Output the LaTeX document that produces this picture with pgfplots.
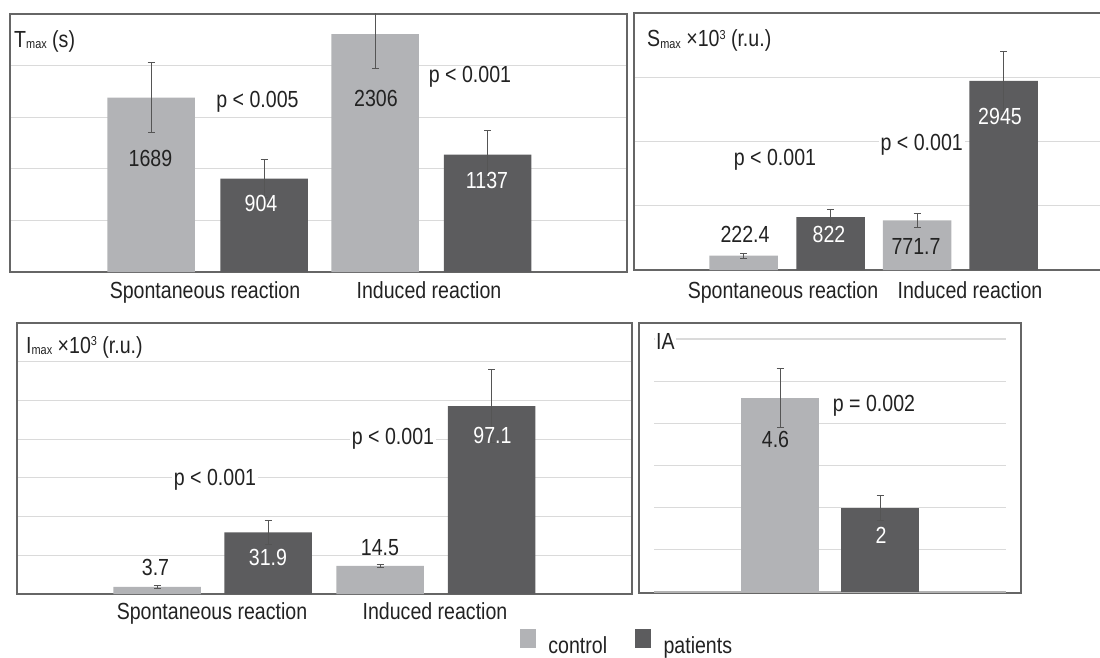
\documentclass[border=0pt]{standalone}
\usepackage{pgfplots}
\pgfplotsset{compat=1.18}
\usepackage{fontspec}
\setmainfont{Liberation Sans}[FakeStretch=0.84]
\definecolor{ctrl}{HTML}{B2B3B6}
\definecolor{pat}{HTML}{5C5C5E}
\definecolor{gridc}{HTML}{DADADA}
\definecolor{framec}{HTML}{666666}
\definecolor{errc}{HTML}{555555}
\definecolor{txt}{HTML}{222222}
\newcommand\subr[1]{\raisebox{-1.5pt}{\fontsize{13}{13}\selectfont #1}}
\newcommand\supr[1]{\raisebox{7.5pt}{\fontsize{13}{13}\selectfont #1}}
\pgfplotsset{
  panel/.style={
    scale only axis, anchor=south west, ymin=0,
    axis line style={draw=framec, line width=1.5pt},
    ymajorgrids, grid style={draw=gridc, line width=1.2pt},
    yticklabels={}, ytick style={draw=none}, xtick style={draw=none},
    xticklabel style={anchor=base, text=txt},
  },
  errs/.style={error bars/.cd, y dir=both, y explicit, error mark=-,
    error bar style={draw=errc, line width=0.9pt},
    error mark options={rotate=90, draw=errc, line width=0.9pt, mark size=3.5pt}},
}
\tikzset{
  lbl/.style={anchor=base, inner sep=0pt, text=txt},
  wlbl/.style={anchor=base, inner sep=0pt, text=white},
  plbl/.style={anchor=base, inner xsep=2pt, inner ysep=0.5pt, fill=white, text=txt},
  ttl/.style={anchor=base west, inner xsep=1pt, inner ysep=0.5pt, fill=white, text=txt},
}
\begin{document}
\fontsize{23.3}{28}\selectfont
\begin{tikzpicture}
\useasboundingbox (0pt,0pt) rectangle (1100pt,657pt);

% Panel 1: Tmax
\begin{axis}[panel, at={(10pt,385pt)}, width=617pt, height=258pt,
  xmin=10, xmax=627, ymax=2500, ytick={500,1000,1500,2000},
  xtick={205,429}, xticklabels={Spontaneous reaction, Induced reaction},
  xticklabel style={yshift=-26pt}]
\addplot[ybar, bar width=87.5, bar shift=0pt, fill=ctrl, draw=none, errs]
  table[x=x, y=y, y error=e] {
x y e
151 1689 340
375 2306 335
};
\addplot[ybar, bar width=87.5, bar shift=0pt, fill=pat, draw=none, errs]
  table[x=x, y=y, y error=e] {
x y e
264 904 183
487.5 1137 233
};
\node[lbl] at (axis cs:150.5,1022) {1689};
\node[wlbl] at (axis cs:261,586) {904};
\node[lbl] at (axis cs:376,1599) {2306};
\node[wlbl] at (axis cs:487,809) {1137};
\node[plbl] at (axis cs:257.5,1596) {p < 0.005};
\node[plbl] at (axis cs:470,1834) {p < 0.001};
\node[ttl] at (axis cs:13,2180) {T\subr{max} (s)};
\end{axis}

% Panel 2: Smax
\begin{axis}[panel, at={(634pt,387pt)}, width=476pt, height=257pt,
  xmin=634, xmax=1110, ymax=4000, ytick={1000,2000,3000},
  xtick={783,970}, xticklabels={Spontaneous reaction, Induced reaction},
  xticklabel style={yshift=-28pt}]
\addplot[ybar, bar width=68.5, bar shift=0pt, fill=ctrl, draw=none, errs]
  table[x=x, y=y, y error=e] {
x y e
743.5 222.4 35
917 771.7 115
};
\addplot[ybar, bar width=68.5, bar shift=0pt, fill=pat, draw=none, errs]
  table[x=x, y=y, y error=e] {
x y e
830.5 822 120
1003.5 2945 455
};
\node[lbl] at (axis cs:745,425) {222.4};
\node[wlbl] at (axis cs:829,425) {822};
\node[lbl] at (axis cs:916,249) {771.7};
\node[wlbl] at (axis cs:1000,2272) {2945};
\node[plbl] at (axis cs:775,1624) {p < 0.001};
\node[plbl] at (axis cs:921.7,1857) {p < 0.001};
\node[ttl] at (axis cs:646,3475) {S\subr{max} ×10\supr{3} (r.u.)};
\end{axis}

% Panel 3: Imax
\begin{axis}[panel, at={(17pt,63pt)}, width=615pt, height=271pt,
  xmin=17, xmax=632, ymax=140, ytick={20,40,60,80,100,120},
  xtick={212,435}, xticklabels={Spontaneous reaction, Induced reaction},
  xticklabel style={yshift=-25pt},
  legend style={at={(axis description cs:0.8179,-0.2314)}, anchor=south west,
    draw=none, fill=none, legend columns=2, inner sep=0pt, outer sep=0pt,
    nodes={inner sep=0pt, text=txt},
    /tikz/every odd column/.append style={column sep=13pt},
    /tikz/every even column/.append style={column sep=28pt}}]
\addplot[forget plot, ybar, bar width=87.5, bar shift=0pt, fill=ctrl, draw=none, errs]
  table[x=x, y=y, y error=e] {
x y e
157 3.7 0.8
380 14.5 0.9
};
\addplot[forget plot, ybar, bar width=87.5, bar shift=0pt, fill=pat, draw=none, errs]
  table[x=x, y=y, y error=e] {
x y e
268 31.9 6.2
491.5 97.1 19
};
\addlegendimage{legend image code/.code={\fill[ctrl] (0pt,-1pt) rectangle (15pt,17pt);}}
\addlegendentry{control}
\addlegendimage{legend image code/.code={\fill[pat] (0pt,-1pt) rectangle (15pt,17pt);}}
\addlegendentry{patients}
\node[lbl] at (axis cs:155.5,9.8) {3.7};
\node[wlbl] at (axis cs:268,14.5) {31.9};
\node[lbl] at (axis cs:380,19.8) {14.5};
\node[wlbl] at (axis cs:492.5,77.5) {97.1};
\node[plbl] at (axis cs:215,55.8) {p < 0.001};
\node[plbl] at (axis cs:393,77.3) {p < 0.001};
\node[ttl] at (axis cs:25,124.3) {I\subr{max} ×10\supr{3} (r.u.)};
\end{axis}

% Panel 4: IA
\begin{axis}[panel, at={(639pt,64pt)}, width=382pt, height=270pt,
  xmin=639, xmax=1021, ymin=-0.024, ymax=6.379, ymajorgrids=false, ytick=\empty,
  xtick=\empty]
\pgfplotsinvokeforeach{1,2,3,4,5,6}{
  \draw[draw=gridc, line width=1.2pt] (axis cs:654,#1) -- (axis cs:1006,#1);
}
\draw[draw=black!30, line width=1.2pt] (axis cs:654,0) -- (axis cs:1006,0);
\addplot[ybar, bar width=78, bar shift=0pt, fill=ctrl, draw=none, errs]
  table[x=x, y=y, y error=e] {
x y e
780 4.6 0.7
};
\addplot[ybar, bar width=78, bar shift=0pt, fill=pat, draw=none, errs]
  table[x=x, y=y, y error=e] {
x y e
880 2 0.3
};
\node[lbl] at (axis cs:775.5,3.42) {4.6};
\node[wlbl] at (axis cs:881,1.155) {2};
\node[plbl] at (axis cs:874,4.29) {p = 0.002};
\node[ttl] at (axis cs:655,5.74) {IA};
\end{axis}
\end{tikzpicture}
\end{document}
